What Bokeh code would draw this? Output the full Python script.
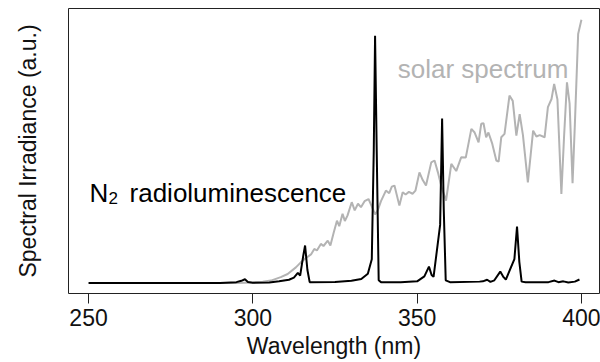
from bokeh.plotting import figure
from bokeh.models import Range1d, FixedTicker, Label
from bokeh.embed import file_html
from bokeh.resources import INLINE

# ---------------- data ----------------
n2_wavelength = [250, 290, 295, 296.5, 297.6, 298.5, 300, 305, 308, 311, 312.5, 313.7, 314.4,
                 315.3, 315.9, 316.6, 317.3, 325, 330, 333, 335, 336.2, 336.8, 337.2, 337.7,
                 338.3, 339, 345, 350, 352.2, 353.6, 354.4, 355, 357.0, 357.6, 358.1, 358.7,
                 360, 369, 370, 371.3, 372.3, 373.5, 375.3, 376.3, 377, 379.6, 380.4, 381.1,
                 381.8, 383, 390, 391.8, 393, 394.5, 396, 398, 399.4]
n2_irradiance = [0, 0, 0.3, 0.8, 1.4, 0.4, 0.1, 0.2, 0.6, 1.2, 2.0, 3.8, 2.8,
                 10, 14.2, 5, 0.3, 0.4, 0.8, 1.5, 3.5, 9, 50, 93.7, 50,
                 1, 0.3, 0.3, 0.6, 2.5, 6.2, 3, 2.3, 22, 62.3, 28, 1,
                 0.3, 0.5, 0.6, 1.2, 0.4, 1, 4.3, 2.2, 1.3, 9, 21.4, 8,
                 0.5, 0.3, 0.3, 0.9, 0.3, 0.6, 0.2, 0.5, 1.3]

solar_wavelength = [285, 295, 300, 303, 305.5, 308.5, 310.6, 313.1, 314.6, 316.2, 317.7, 318.7,
                    319.5, 320.7, 321.5, 322.8, 323.6, 324.6, 325.6, 326.3, 327.3, 328.0, 328.8,
                    330.1, 331.0, 332.0, 332.9, 334.0, 335.2, 336.2, 337.2, 338.0, 339.0, 340.5,
                    341.5, 342.3, 343.1, 344.6, 345.6, 346.5, 347.5, 348.6, 349.5, 350.7, 351.7,
                    352.7, 354.3, 355.3, 356.3, 357.5, 358.8, 360.4, 361.9, 363.4, 364.8, 366.5,
                    367.5, 368.7, 369.5, 370.2, 371.0, 371.7, 372.8, 374.1, 374.8, 375.6, 376.6,
                    378.1, 379.1, 380.2, 381.2, 382.2, 383.7, 385.3, 386.3, 387.3, 388.8, 389.8,
                    390.9, 391.7, 392.7, 393.9, 394.7, 395.6, 396.4, 397.3, 398.0, 399.0, 400.0]
solar_irradiance = [0, 0, 0.2, 0.5, 0.9, 2.2, 3.4, 5.9, 7.8, 9.5, 10.8, 12.9,
                    12.3, 14.8, 14.0, 16.0, 14.2, 19.0, 23.6, 21.5, 26.2, 23.5, 25.5,
                    30.6, 27.5, 30.0, 28.7, 31.0, 31.8, 29.0, 26.0, 27.5, 31.0, 35.0,
                    34.0, 36.5, 36.9, 29.3, 34.4, 33.5, 34.5, 33.8, 35.0, 41.9, 39.0,
                    36.9, 45.7, 46.4, 42.0, 36.0, 31.2, 45.1, 42.4, 47.6, 47.5, 58.4,
                    57.0, 53.3, 60.3, 60.5, 55.2, 57.0, 53.0, 46.4, 46.0, 55.2, 56.5,
                    71.0, 69.0, 55.8, 64.0, 56.0, 38.1, 57.7, 55.5, 56.0, 55.2, 66.6,
                    69.7, 75.4, 69.5, 33.7, 55.0, 76.0, 68.0, 37.8, 60.0, 94.3, 99.7]

x_ticks = [250, 300, 350, 400]

FONT = "Liberation Sans"
GRAY = "#b3b3b3"

p = figure(width=600, height=362, output_backend="svg", toolbar_location=None,
           x_range=Range1d(243.9, 405.5), y_range=Range1d(-4, 104),
           min_border_left=68, min_border_right=1, min_border_top=8, min_border_bottom=69)
p.grid.visible = False
p.outline_line_color = "#222222"
p.outline_line_width = 1
p.background_fill_color = "white"
p.border_fill_color = "white"

# x axis
xa = p.xaxis[0]
xa.ticker = FixedTicker(ticks=x_ticks)
xa.axis_line_color = None
xa.major_tick_out = 10
xa.major_tick_in = 0
xa.major_tick_line_color = "#222222"
xa.minor_tick_line_color = None
xa.major_label_text_font = FONT
xa.major_label_text_font_size = "23px"
xa.major_label_text_color = "#111111"
xa.major_label_standoff = 5
xa.axis_label = "Wavelength (nm)"
xa.axis_label_text_font = FONT
xa.axis_label_text_font_style = "normal"
xa.axis_label_text_font_size = "23px"
xa.axis_label_text_color = "#111111"
xa.axis_label_standoff = 4

# y axis (label only)
ya = p.yaxis[0]
ya.ticker = FixedTicker(ticks=[])
ya.axis_line_color = None
ya.major_tick_line_color = None
ya.minor_tick_line_color = None
ya.major_label_text_font_size = "0px"
ya.axis_label = "Spectral Irradiance (a.u.)"
ya.axis_label_text_font = FONT
ya.axis_label_text_font_style = "normal"
ya.axis_label_text_font_size = "23px"
ya.axis_label_text_color = "#111111"
ya.axis_label_standoff = 28

p.line(solar_wavelength, solar_irradiance, line_color=GRAY, line_width=2)
p.line(n2_wavelength, n2_irradiance, line_color="black", line_width=2)

p.add_layout(Label(x=396.0, y=81.2, text="solar spectrum", text_color=GRAY,
                   text_font=FONT, text_font_size="26px",
                   text_align="right", text_baseline="alphabetic"))
p.add_layout(Label(x=250.3, y=33.9, text="N", text_color="black",
                   text_font=FONT, text_font_size="26px",
                   text_align="left", text_baseline="alphabetic"))
p.add_layout(Label(x=250.3, y=33.9, x_offset=19, y_offset=-5, text="2", text_color="black",
                   text_font=FONT, text_font_size="17px",
                   text_align="left", text_baseline="alphabetic"))
p.add_layout(Label(x=250.3, y=33.9, x_offset=40, text="radioluminescence", text_color="black",
                   text_font=FONT, text_font_size="26px",
                   text_align="left", text_baseline="alphabetic"))

open("out.html", "w").write(file_html(p, INLINE))
